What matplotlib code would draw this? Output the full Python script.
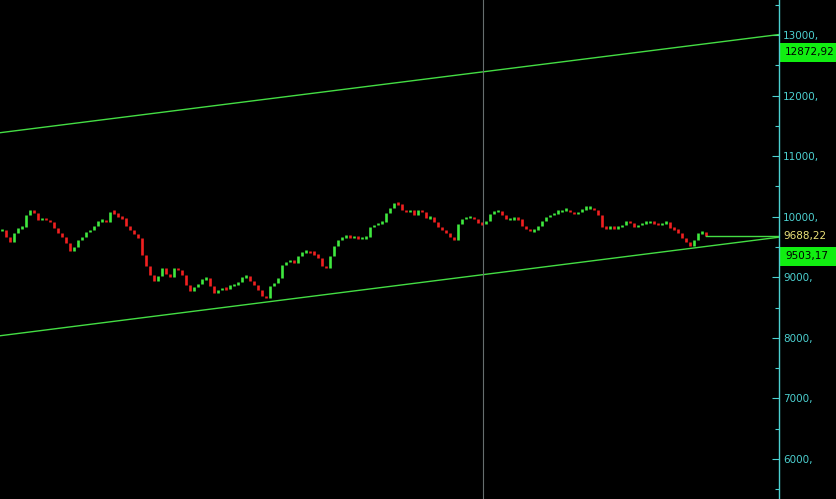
import matplotlib
matplotlib.use('Agg')
import matplotlib.pyplot as plt
from matplotlib.patches import Rectangle
from matplotlib.transforms import blended_transform_factory
from matplotlib.ticker import MultipleLocator, FuncFormatter

# ---- data ----
closes = [
    9785, 9670, 9587, 9736, 9818, 9835, 10033, 10116, 10066, 9950,
    9983, 9950, 9917, 9818, 9736, 9670, 9571, 9439, 9505, 9620,
    9670, 9752, 9785, 9851, 9934, 9950, 9917, 10083, 10066, 10000,
    9983, 9851, 9785, 9719, 9653, 9373, 9191, 9042, 8943, 9026,
    9158, 9059, 9009, 9158, 9125, 9042, 8877, 8778, 8844, 8894,
    8976, 8993, 8861, 8745, 8795, 8828, 8811, 8877, 8877, 8927,
    9009, 9026, 8943, 8877, 8795, 8696, 8663, 8861, 8910, 8993,
    9208, 9257, 9290, 9241, 9356, 9422, 9439, 9406, 9389, 9323,
    9191, 9158, 9356, 9521, 9620, 9670, 9686, 9670, 9670, 9653,
    9653, 9670, 9835, 9868, 9901, 9917, 10066, 10149, 10231, 10215,
    10116, 10083, 10116, 10033, 10116, 10083, 9983, 10000, 9917, 9835,
    9785, 9736, 9670, 9620, 9884, 9967, 10000, 10000, 9967, 9901,
    9884, 9934, 10050, 10099, 10099, 10033, 9967, 9967, 9983, 9967,
    9851, 9802, 9769, 9785, 9851, 9934, 10000, 10033, 10066, 10083,
    10116, 10116, 10083, 10050, 10083, 10132, 10149, 10149, 10116, 10033,
    9835, 9818, 9835, 9818, 9835, 9868, 9934, 9901, 9835, 9868,
    9901, 9917, 9917, 9901, 9868, 9901, 9917, 9818, 9802, 9736,
    9653, 9587, 9521, 9620, 9736, 9752, 9688.22,
]
upper_channel = [11387, 13008]   # value at left edge, value at right edge
lower_channel = [8035, 9662]
last_close = 9688.22
upper_label = 12872.92
lower_label = 9503.17
cursor_bar = 120.25

# ---- layout ----
W, H, DPI = 836, 499, 100
axis_px = 779
visible_bars = 194.75
ymin, ymax = 5340, 13578

BG = 'black'
GREEN = '#3fe83f'
RED = '#f02020'
LINE = '#44dd44'
CYAN = '#4cd0d0'
BOX = '#11ee11'
YELLOW = '#ece37a'

fig = plt.figure(figsize=(W / DPI, H / DPI), dpi=DPI, facecolor=BG)
ax = fig.add_axes([0, 0, axis_px / W, 1])
ax.set_facecolor(BG)
ax.set_xlim(-0.5, visible_bars - 0.5)
ax.set_ylim(ymin, ymax)

# candles (open = previous close)
opens = [closes[0]] + closes[:-1]
for i, (o, c) in enumerate(zip(opens, closes)):
    col = GREEN if c >= o else RED
    lo, hi = min(o, c), max(o, c)
    if hi - lo < 30:
        hi += 20
        lo -= 20
    ax.vlines(i, lo, hi, color=col, lw=1.9)

# channel lines
x0, x1 = -0.5, visible_bars - 0.5
ax.plot([x0, x1], upper_channel, color=LINE, lw=1)
ax.plot([x0, x1], lower_channel, color=LINE, lw=1)

# last close line
ax.plot([len(closes) - 1, x1], [last_close, last_close], color=LINE, lw=1)

# cursor line
ax.axvline(cursor_bar, color='#666e6e', lw=0.8)

# axis styling
for s in ['left', 'top', 'bottom']:
    ax.spines[s].set_visible(False)
ax.spines['right'].set_color(CYAN)
ax.spines['right'].set_linewidth(1)
ax.set_xticks([])
ax.yaxis.tick_right()
ax.yaxis.set_major_locator(MultipleLocator(1000))
ax.yaxis.set_minor_locator(MultipleLocator(500))
ax.yaxis.set_major_formatter(FuncFormatter(lambda v, _: f"{int(v)},"))
ax.tick_params(axis='y', which='major', direction='in', length=5, width=0.8,
               color=CYAN, labelcolor=CYAN, labelsize=7.5, pad=3)
ax.tick_params(axis='y', which='minor', direction='in', length=3, width=0.8,
               color=CYAN)

# value labels on right
tr = blended_transform_factory(ax.transAxes, ax.transData)
units_per_px = (ymax - ymin) / H
box_h = 19 * units_per_px
bx0 = (axis_px + 1) / axis_px
bw = (W - axis_px) / axis_px
tx = (axis_px + 6) / axis_px

def fmt(v):
    return f"{v:.2f}".replace('.', ',')

for val in (upper_label, lower_label):
    ax.add_patch(Rectangle((bx0, val - box_h), bw, box_h, transform=tr,
                           facecolor=BOX, edgecolor='none', clip_on=False))
    ax.text(tx, val - box_h / 2, fmt(val), transform=tr, color='black',
            fontsize=7.5, va='center', ha='left', clip_on=False)

ax.text((axis_px + 4) / axis_px, last_close, fmt(last_close), transform=tr,
        color=YELLOW, fontsize=7.5, va='center', ha='left', clip_on=False)

fig.savefig('out.png', dpi=DPI, facecolor=BG)
